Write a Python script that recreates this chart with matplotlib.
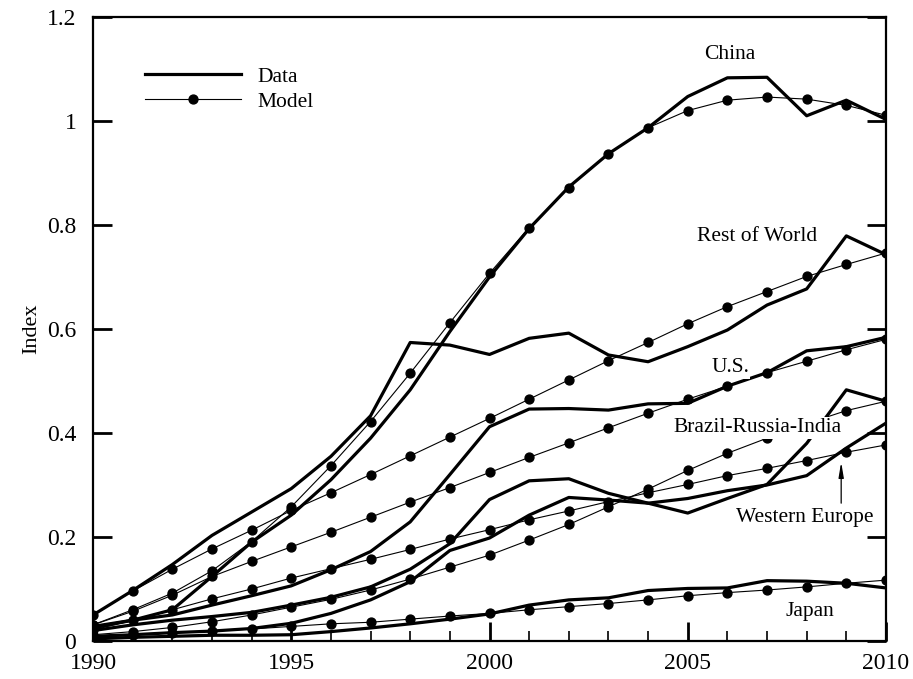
import matplotlib.pyplot as plt
import numpy as np
from matplotlib.ticker import MultipleLocator
from matplotlib.lines import Line2D

plt.rcParams["font.family"] = ["Liberation Serif", "DejaVu Serif"]

years = np.arange(1990, 2011)

china_data = [0.028, 0.040, 0.060, 0.124, 0.190, 0.242, 0.310, 0.390, 0.483, 0.595, 0.700,
              0.793, 0.873, 0.937, 0.987, 1.047, 1.083, 1.084, 1.010, 1.040, 1.003]
china_model = [0.031, 0.060, 0.092, 0.135, 0.191, 0.258, 0.337, 0.422, 0.515, 0.612, 0.707,
               0.795, 0.872, 0.937, 0.987, 1.020, 1.040, 1.046, 1.042, 1.030, 1.011]

row_data = [0.050, 0.097, 0.147, 0.203, 0.248, 0.293, 0.355, 0.433, 0.574, 0.569, 0.551,
            0.582, 0.592, 0.550, 0.537, 0.566, 0.598, 0.646, 0.677, 0.779, 0.743]
row_model = [0.050, 0.096, 0.138, 0.177, 0.213, 0.251, 0.285, 0.320, 0.356, 0.392, 0.428,
             0.465, 0.502, 0.539, 0.574, 0.610, 0.643, 0.672, 0.701, 0.724, 0.746]

us_data = [0.025, 0.040, 0.050, 0.069, 0.087, 0.106, 0.137, 0.172, 0.229, 0.320, 0.412,
           0.446, 0.447, 0.444, 0.456, 0.457, 0.490, 0.516, 0.558, 0.566, 0.584]
us_model = [0.031, 0.057, 0.088, 0.124, 0.153, 0.181, 0.209, 0.238, 0.267, 0.295, 0.324,
            0.353, 0.381, 0.410, 0.438, 0.465, 0.490, 0.516, 0.538, 0.560, 0.580]

bri_data = [0.020, 0.031, 0.040, 0.047, 0.055, 0.069, 0.084, 0.104, 0.138, 0.187, 0.272,
            0.308, 0.312, 0.284, 0.265, 0.246, 0.274, 0.301, 0.380, 0.483, 0.461]
bri_model = [0.012, 0.018, 0.026, 0.037, 0.050, 0.065, 0.080, 0.098, 0.119, 0.142, 0.165,
             0.194, 0.224, 0.258, 0.292, 0.328, 0.361, 0.390, 0.418, 0.443, 0.461]

we_data = [0.009, 0.012, 0.016, 0.019, 0.024, 0.034, 0.053, 0.079, 0.114, 0.174, 0.198,
           0.242, 0.276, 0.271, 0.265, 0.274, 0.289, 0.300, 0.318, 0.371, 0.419]
we_model = [0.021, 0.040, 0.060, 0.081, 0.100, 0.121, 0.139, 0.157, 0.176, 0.196, 0.214,
            0.233, 0.250, 0.268, 0.285, 0.301, 0.318, 0.332, 0.347, 0.363, 0.377]

japan_data = [0.004, 0.007, 0.009, 0.011, 0.011, 0.012, 0.018, 0.025, 0.033, 0.042, 0.052,
              0.069, 0.079, 0.083, 0.097, 0.101, 0.102, 0.116, 0.115, 0.111, 0.102]
japan_model = [0.006, 0.012, 0.016, 0.019, 0.023, 0.028, 0.033, 0.036, 0.042, 0.048, 0.053,
               0.060, 0.066, 0.072, 0.079, 0.087, 0.093, 0.098, 0.104, 0.111, 0.117]

data_series = [china_data, row_data, us_data, bri_data, we_data, japan_data]
model_series = [china_model, row_model, us_model, bri_model, we_model, japan_model]

fig = plt.figure(figsize=(9.13, 6.79), dpi=100)
ax = fig.add_axes([0.1019, 0.056, 0.8685, 0.919])

for d in data_series:
    ax.plot(years, d, color="black", lw=2.3, zorder=3)
for m in model_series:
    ax.plot(years, m, color="black", lw=0.8, marker="o", ms=6.4, zorder=4)

ax.set_xlim(1990, 2010)
ax.set_ylim(0, 1.2)
ax.xaxis.set_major_locator(MultipleLocator(5))
ax.xaxis.set_minor_locator(MultipleLocator(1))
ax.set_yticks([0, 0.2, 0.4, 0.6, 0.8, 1.0, 1.2])
ax.set_yticklabels(["0", "0.2", "0.4", "0.6", "0.8", "1", "1.2"])
ax.tick_params(which="major", direction="in", length=14, width=2, labelsize=17,
               right=True, top=False, pad=9)
ax.tick_params(axis="y", which="major", pad=12)
ax.tick_params(which="minor", direction="in", length=7, width=1.2, top=False)
for s in ax.spines.values():
    s.set_linewidth(1.6)

ax.set_ylabel("Index", fontsize=16, labelpad=4)

fs = 15.5
ax.text(2006.07, 1.127, "China", fontsize=fs, ha="center", va="center", zorder=6)
ax.text(2006.75, 0.777, "Rest of World", fontsize=fs, ha="center", va="center", zorder=6)
ax.text(2006.07, 0.525, "U.S.", fontsize=fs, ha="center", va="center", zorder=6,
        bbox=dict(facecolor="white", edgecolor="none", pad=1))
ax.text(2006.75, 0.41, "Brazil-Russia-India", fontsize=fs, ha="center", va="center", zorder=6,
        bbox=dict(facecolor="white", edgecolor="none", pad=1))
ax.text(2007.96, 0.237, "Western Europe", fontsize=fs, ha="center", va="center", zorder=6)
ax.annotate("", xy=(2008.87, 0.344), xytext=(2008.87, 0.265), zorder=6,
            arrowprops=dict(arrowstyle="-|>,head_length=0.9,head_width=0.15", color="black",
                            lw=0.9, shrinkA=0, shrinkB=0))
ax.text(2008.08, 0.056, "Japan", fontsize=fs, ha="center", va="center", zorder=6)

handles = [Line2D([], [], color="black", lw=2.3),
           Line2D([], [], color="black", lw=0.8, marker="o", ms=6.4)]
ax.legend(handles, ["Data", "Model"], loc="upper left", bbox_to_anchor=(0.065, 0.92),
          frameon=False, fontsize=fs, handlelength=4.5, handletextpad=0.75,
          labelspacing=0.22, borderpad=0, borderaxespad=0, numpoints=1)

fig.savefig("out.png", dpi=100)
